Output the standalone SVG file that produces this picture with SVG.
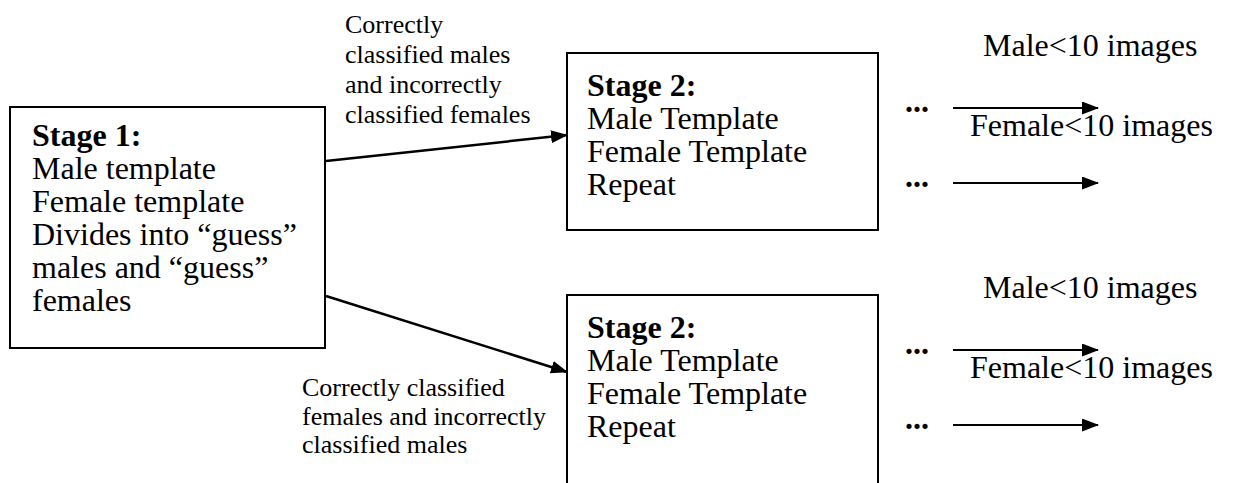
<svg xmlns="http://www.w3.org/2000/svg" width="1235" height="483" viewBox="0 0 1235 483">
<style>
.box{fill:#fff;stroke:#000;stroke-width:2}
.t{font-family:"Liberation Serif","Times New Roman",serif;font-size:32px;fill:#000}
.b{font-weight:bold}
.lbl{font-family:"Liberation Serif","Times New Roman",serif;font-size:26px;fill:#000}
.edge{stroke:#000;stroke-width:2.5;fill:none;marker-end:url(#ah)}
.out{stroke:#000;stroke-width:2.2;fill:none;marker-end:url(#ah)}
</style>
<defs>
<marker id="ah" markerWidth="17" markerHeight="13" refX="16" refY="6.5" orient="auto" markerUnits="userSpaceOnUse">
<path d="M0,0 L17,6.5 L0,13 Z" fill="#000"/>
</marker>
</defs>
<rect width="1235" height="483" fill="#fff"/>
<g id="stage1">
<rect class="box" x="10" y="107" width="315" height="241"/>
<text class="t" x="32" y="146"><tspan class="b">Stage 1:</tspan><tspan x="32" dy="33">Male template</tspan><tspan x="32" dy="33">Female template</tspan><tspan x="32" dy="33">Divides into “guess”</tspan><tspan x="32" dy="33">males and “guess”</tspan><tspan x="32" dy="33">females</tspan></text>
</g>
<g id="stage2a">
<rect class="box" x="567" y="53" width="311" height="177"/>
<text class="t" x="587" y="96"><tspan class="b">Stage 2:</tspan><tspan x="587" dy="33">Male Template</tspan><tspan x="587" dy="33">Female Template</tspan><tspan x="587" dy="33">Repeat</tspan></text>
</g>
<g id="stage2b">
<path class="box" d="M567,490 V295 H878 V490"/>
<text class="t" x="587" y="338"><tspan class="b">Stage 2:</tspan><tspan x="587" dy="33">Male Template</tspan><tspan x="587" dy="33">Female Template</tspan><tspan x="587" dy="33">Repeat</tspan></text>
</g>
<g id="outputs">
<text class="t b" x="905" y="112">...</text>
<text class="t b" x="905" y="187">...</text>
<text class="t b" x="905" y="354">...</text>
<text class="t b" x="905" y="429">...</text>
<text class="t" x="983" y="56">Male&lt;10 images</text>
<text class="t" x="970" y="136">Female&lt;10 images</text>
<text class="t" x="983" y="298">Male&lt;10 images</text>
<text class="t" x="970" y="378">Female&lt;10 images</text>
</g>
<g id="labels">
<text class="lbl" x="345" y="33">Correctly<tspan x="345" dy="30">classified males</tspan><tspan x="345" dy="30">and incorrectly</tspan><tspan x="345" dy="30">classified females</tspan></text>
<text class="lbl" x="302" y="396">Correctly classified<tspan x="302" dy="28.5">females and incorrectly</tspan><tspan x="302" dy="28.5">classified males</tspan></text>
</g>
<g id="connectors">
<line class="edge" x1="326" y1="161" x2="567" y2="135"/>
<line class="edge" x1="326" y1="296" x2="567" y2="372"/>
<line class="out" x1="953" y1="108" x2="1098" y2="108"/>
<line class="out" x1="953" y1="183" x2="1098" y2="183"/>
<line class="out" x1="953" y1="350" x2="1098" y2="350"/>
<line class="out" x1="953" y1="425" x2="1098" y2="425"/>
</g>
</svg>
